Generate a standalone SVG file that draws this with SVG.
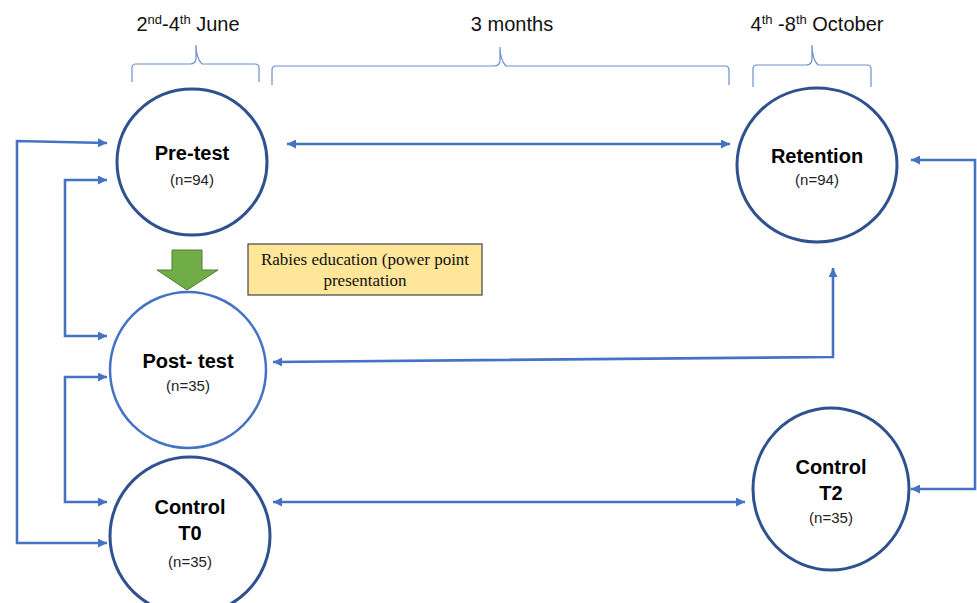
<svg xmlns="http://www.w3.org/2000/svg" width="977" height="603" viewBox="0 0 977 603">
<style>
.title{font-family:"Liberation Sans",Arial,sans-serif;font-size:20px;fill:#111;text-anchor:middle}
.sup{font-size:13px}
.lbl{font-family:"Liberation Sans",Arial,sans-serif;font-size:20px;font-weight:bold;fill:#000;text-anchor:middle}
.n{font-family:"Liberation Sans",Arial,sans-serif;font-size:15px;fill:#222;text-anchor:middle}
.dark{fill:#fff;stroke:#2F528F;stroke-width:3}
.light{fill:#fff;stroke:#4472C4;stroke-width:2.5}
.conn{fill:none;stroke:#4472C4;stroke-width:2.6}
.brace{fill:none;stroke:#6A8FCF;stroke-width:1.2}
.note{font-family:"Liberation Serif","Times New Roman",serif;font-size:17px;fill:#111;text-anchor:middle}
</style>
<defs>
<marker id="ah" viewBox="0 0 10 10" refX="10" refY="5" markerWidth="10" markerHeight="9" markerUnits="userSpaceOnUse" orient="auto-start-reverse">
<path d="M0,0 L10,5 L0,10 z" fill="#4472C4"/>
</marker>
</defs>
<g id="braces">
<text class="title" x="188" y="31">2<tspan class="sup" dy="-7">nd</tspan><tspan dy="7">-4</tspan><tspan class="sup" dy="-7">th</tspan><tspan dy="7"> June</tspan></text>
<text class="title" x="512" y="31">3 months</text>
<text class="title" x="817" y="31">4<tspan class="sup" dy="-7">th</tspan><tspan dy="7"> -8</tspan><tspan class="sup" dy="-7">th</tspan><tspan dy="7"> October</tspan></text>
<path class="brace" d="M132,82 V68 Q132,64 136,64 H190 Q196,64 196,58 V45 Q196,58 202,64 H255 Q259,64 259,68 V82"/>
<path class="brace" d="M272,85 V70 Q272,66 276,66 H494 Q500,66 500,60 V47 Q500,60 506,66 H725 Q729,66 729,70 V85"/>
<path class="brace" d="M753,87 V69 Q753,65 757,65 H806 Q812,65 812,59 V45 Q812,59 818,65 H867 Q871,65 871,69 V87"/>
</g>
<g id="connectors">
<line class="conn" x1="287" y1="144" x2="730" y2="144" marker-start="url(#ah)" marker-end="url(#ah)"/>
<path class="conn" d="M107,143 L17,141 V543 H107" marker-start="url(#ah)" marker-end="url(#ah)"/>
<path class="conn" d="M107,180 H65 V336 H107" marker-start="url(#ah)" marker-end="url(#ah)"/>
<path class="conn" d="M107,377 H65 V502 H107" marker-start="url(#ah)" marker-end="url(#ah)"/>
<path class="conn" d="M273,362 L833,357 V268" marker-start="url(#ah)" marker-end="url(#ah)"/>
<line class="conn" x1="273" y1="502" x2="745" y2="502" marker-start="url(#ah)" marker-end="url(#ah)"/>
<path class="conn" d="M911,160 H975 V489 H911" marker-start="url(#ah)" marker-end="url(#ah)"/>
</g>
<g id="pretest">
<ellipse class="dark" cx="192" cy="162" rx="75" ry="73"/>
<text class="lbl" x="192" y="160">Pre-test</text>
<text class="n" x="192" y="185">(n=94)</text>
</g>
<g id="education">
<path d="M172,250 H202 V270 H218 L187,290 L157,270 H172 Z" fill="#70AD47" stroke="#507E32" stroke-width="1"/>
<rect x="248" y="244" width="234" height="51" fill="#FFE699" stroke="#444" stroke-width="1.2"/>
<text class="note" x="365" y="265">Rabies education (power point</text>
<text class="note" x="365" y="286">presentation</text>
</g>
<g id="posttest">
<ellipse class="light" cx="188" cy="370" rx="78" ry="78"/>
<text class="lbl" x="188" y="368">Post- test</text>
<text class="n" x="188" y="391">(n=35)</text>
</g>
<g id="controlT0">
<ellipse class="dark" cx="190" cy="536" rx="80" ry="79"/>
<text class="lbl" x="190" y="514">Control</text>
<text class="lbl" x="190" y="540">T0</text>
<text class="n" x="190" y="567">(n=35)</text>
</g>
<g id="retention">
<ellipse class="dark" cx="817" cy="165" rx="80" ry="77"/>
<text class="lbl" x="817" y="163">Retention</text>
<text class="n" x="817" y="185">(n=94)</text>
</g>
<g id="controlT2">
<ellipse class="dark" cx="831" cy="489" rx="78" ry="81"/>
<text class="lbl" x="831" y="474">Control</text>
<text class="lbl" x="831" y="500">T2</text>
<text class="n" x="831" y="523">(n=35)</text>
</g>
</svg>
